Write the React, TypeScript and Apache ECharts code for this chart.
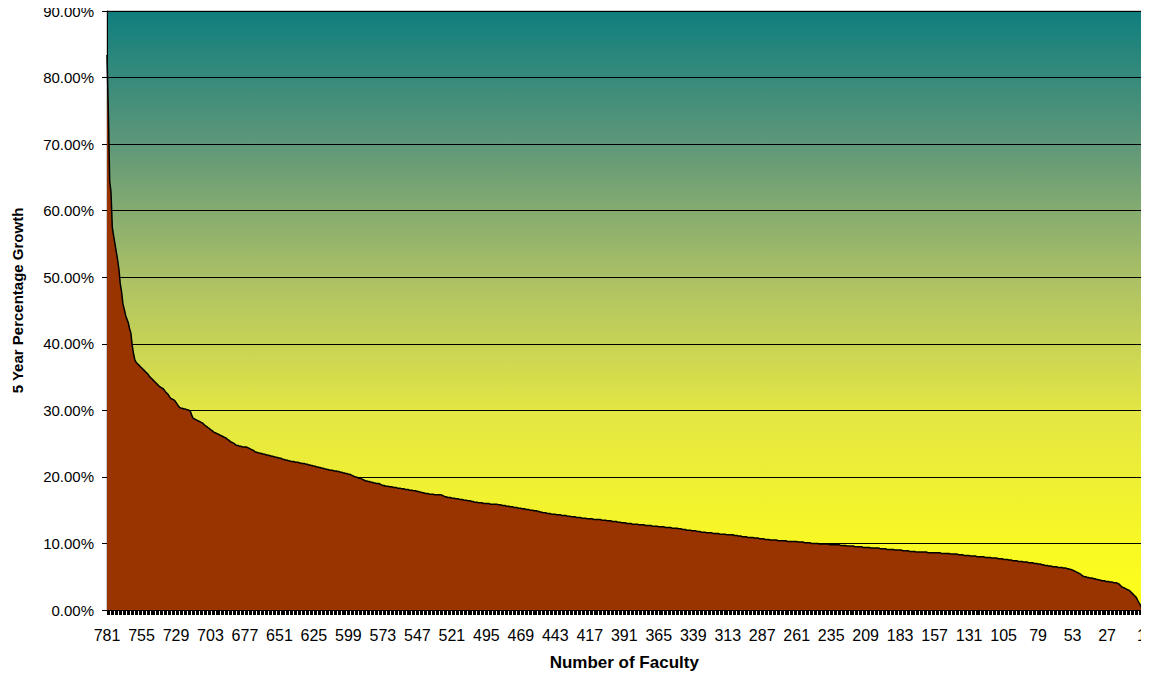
import React, { useEffect, useRef } from "react";
import * as echarts from "echarts";

// Number of faculty ranks: 781 (left) down to 1 (right)
const facultyCount = 781;
const categories: string[] = Array.from({ length: facultyCount }, (_, i) => String(facultyCount - i));

// 5-year percentage growth, in percent, in x-axis order (rank 781 ... rank 1)
const growthValues: number[] = [
  83.4, 75.0, 64.5, 62.8, 57.5, 56.2, 55.0, 53.8, 52.6, 51.2,
  49.0, 47.8, 46.0, 45.2, 44.3, 43.7, 43.2, 42.3, 41.6, 39.8,
  38.5, 37.6, 37.2, 37.0, 36.8, 36.6, 36.4, 36.2, 36.0, 35.8,
  35.6, 35.4, 35.1, 34.9, 34.7, 34.5, 34.3, 34.1, 33.9, 33.7,
  33.5, 33.4, 33.3, 33.1, 32.8, 32.6, 32.4, 32.1, 31.8, 31.7,
  31.6, 31.5, 31.2, 30.9, 30.6, 30.4, 30.3, 30.3, 30.2, 30.2,
  30.1, 30.1, 30.0, 29.8, 29.2, 28.8, 28.7, 28.6, 28.5, 28.4,
  28.3, 28.2, 28.1, 27.9, 27.7, 27.6, 27.4, 27.3, 27.1, 27.0,
  26.8, 26.7, 26.6, 26.5, 26.4, 26.3, 26.2, 26.1, 26.0, 25.9,
  25.8, 25.6, 25.5, 25.3, 25.2, 25.1, 25.0, 24.8, 24.7, 24.7,
  24.6, 24.6, 24.5, 24.5, 24.5, 24.5, 24.4, 24.3, 24.2, 24.1,
  24.0, 23.9, 23.7, 23.7, 23.6, 23.6, 23.5, 23.5, 23.4, 23.4,
  23.3, 23.3, 23.2, 23.2, 23.1, 23.1, 23.0, 23.0, 22.9, 22.9,
  22.8, 22.8, 22.7, 22.6, 22.6, 22.5, 22.5, 22.4, 22.4, 22.3,
  22.3, 22.3, 22.2, 22.2, 22.2, 22.1, 22.1, 22.0, 22.0, 22.0,
  21.9, 21.9, 21.8, 21.8, 21.7, 21.7, 21.6, 21.6, 21.5, 21.5,
  21.4, 21.4, 21.3, 21.3, 21.2, 21.2, 21.1, 21.1, 21.0, 21.0,
  21.0, 20.9, 20.9, 20.9, 20.8, 20.8, 20.7, 20.7, 20.6, 20.6,
  20.5, 20.5, 20.4, 20.4, 20.3, 20.2, 20.1, 20.0, 20.0, 19.9,
  19.8, 19.8, 19.7, 19.6, 19.5, 19.4, 19.4, 19.3, 19.3, 19.2,
  19.2, 19.1, 19.1, 19.0, 19.0, 19.0, 18.9, 18.8, 18.7, 18.7,
  18.6, 18.6, 18.6, 18.5, 18.5, 18.5, 18.4, 18.4, 18.4, 18.3,
  18.3, 18.3, 18.2, 18.2, 18.2, 18.1, 18.1, 18.1, 18.0, 18.0,
  18.0, 17.9, 17.9, 17.9, 17.8, 17.8, 17.7, 17.7, 17.6, 17.6,
  17.5, 17.5, 17.5, 17.4, 17.4, 17.4, 17.4, 17.3, 17.3, 17.3,
  17.3, 17.3, 17.3, 17.2, 17.1, 17.0, 17.0, 16.9, 16.9, 16.9,
  16.8, 16.8, 16.8, 16.7, 16.7, 16.7, 16.6, 16.6, 16.6, 16.5,
  16.5, 16.5, 16.4, 16.4, 16.4, 16.3, 16.3, 16.2, 16.2, 16.2,
  16.1, 16.1, 16.1, 16.1, 16.0, 16.0, 16.0, 16.0, 16.0, 15.9,
  15.9, 15.9, 15.9, 15.9, 15.9, 15.8, 15.8, 15.8, 15.7, 15.7,
  15.7, 15.6, 15.6, 15.6, 15.5, 15.5, 15.5, 15.4, 15.4, 15.4,
  15.3, 15.3, 15.3, 15.2, 15.2, 15.2, 15.1, 15.1, 15.1, 15.0,
  15.0, 15.0, 14.9, 14.9, 14.9, 14.8, 14.8, 14.7, 14.7, 14.6,
  14.6, 14.6, 14.5, 14.5, 14.5, 14.4, 14.4, 14.4, 14.4, 14.3,
  14.3, 14.3, 14.3, 14.2, 14.2, 14.2, 14.2, 14.1, 14.1, 14.1,
  14.0, 14.0, 14.0, 14.0, 13.9, 13.9, 13.9, 13.9, 13.8, 13.8,
  13.8, 13.8, 13.7, 13.7, 13.7, 13.7, 13.7, 13.6, 13.6, 13.6,
  13.6, 13.6, 13.6, 13.5, 13.5, 13.5, 13.5, 13.4, 13.4, 13.4,
  13.4, 13.3, 13.3, 13.3, 13.3, 13.2, 13.2, 13.2, 13.1, 13.1,
  13.1, 13.1, 13.0, 13.0, 13.0, 13.0, 12.9, 12.9, 12.9, 12.9,
  12.9, 12.8, 12.8, 12.8, 12.8, 12.8, 12.7, 12.7, 12.7, 12.7,
  12.7, 12.6, 12.6, 12.6, 12.6, 12.6, 12.5, 12.5, 12.5, 12.5,
  12.5, 12.4, 12.4, 12.4, 12.4, 12.4, 12.3, 12.3, 12.3, 12.3,
  12.3, 12.2, 12.2, 12.2, 12.1, 12.1, 12.1, 12.0, 12.0, 12.0,
  12.0, 11.9, 11.9, 11.9, 11.9, 11.8, 11.8, 11.8, 11.7, 11.7,
  11.7, 11.7, 11.6, 11.6, 11.6, 11.6, 11.6, 11.5, 11.5, 11.5,
  11.5, 11.5, 11.4, 11.4, 11.4, 11.4, 11.4, 11.3, 11.3, 11.3,
  11.3, 11.3, 11.3, 11.2, 11.2, 11.2, 11.1, 11.1, 11.1, 11.0,
  11.0, 11.0, 11.0, 10.9, 10.9, 10.9, 10.9, 10.9, 10.8, 10.8,
  10.8, 10.8, 10.7, 10.7, 10.7, 10.7, 10.6, 10.6, 10.6, 10.6,
  10.5, 10.5, 10.5, 10.5, 10.5, 10.5, 10.4, 10.4, 10.4, 10.4,
  10.4, 10.4, 10.4, 10.3, 10.3, 10.3, 10.3, 10.3, 10.3, 10.3,
  10.3, 10.2, 10.2, 10.2, 10.2, 10.2, 10.1, 10.1, 10.1, 10.1,
  10.1, 10.0, 10.0, 10.0, 10.0, 10.0, 10.0, 9.9, 9.9, 9.9,
  9.9, 9.9, 9.9, 9.9, 9.9, 9.8, 9.8, 9.8, 9.8, 9.8,
  9.8, 9.8, 9.8, 9.7, 9.7, 9.7, 9.7, 9.7, 9.6, 9.6,
  9.6, 9.6, 9.6, 9.6, 9.5, 9.5, 9.5, 9.5, 9.5, 9.5,
  9.4, 9.4, 9.4, 9.4, 9.4, 9.4, 9.3, 9.3, 9.3, 9.3,
  9.3, 9.3, 9.3, 9.2, 9.2, 9.2, 9.2, 9.2, 9.1, 9.1,
  9.1, 9.1, 9.1, 9.1, 9.0, 9.0, 9.0, 9.0, 9.0, 9.0,
  8.9, 8.9, 8.9, 8.9, 8.9, 8.8, 8.8, 8.8, 8.8, 8.8,
  8.7, 8.7, 8.7, 8.7, 8.7, 8.7, 8.7, 8.7, 8.7, 8.6,
  8.6, 8.6, 8.6, 8.6, 8.6, 8.6, 8.6, 8.6, 8.6, 8.5,
  8.5, 8.5, 8.5, 8.5, 8.5, 8.5, 8.4, 8.4, 8.4, 8.4,
  8.4, 8.4, 8.3, 8.3, 8.3, 8.3, 8.2, 8.2, 8.2, 8.2,
  8.2, 8.1, 8.1, 8.1, 8.1, 8.1, 8.0, 8.0, 8.0, 8.0,
  8.0, 8.0, 7.9, 7.9, 7.9, 7.9, 7.9, 7.8, 7.8, 7.8,
  7.8, 7.8, 7.7, 7.7, 7.7, 7.7, 7.6, 7.6, 7.6, 7.6,
  7.5, 7.5, 7.5, 7.4, 7.4, 7.4, 7.4, 7.3, 7.3, 7.3,
  7.3, 7.2, 7.2, 7.2, 7.2, 7.1, 7.1, 7.1, 7.1, 7.0,
  7.0, 7.0, 6.9, 6.9, 6.9, 6.8, 6.8, 6.7, 6.7, 6.7,
  6.6, 6.6, 6.6, 6.5, 6.5, 6.5, 6.5, 6.4, 6.4, 6.4,
  6.4, 6.3, 6.3, 6.3, 6.2, 6.2, 6.1, 6.1, 6.0, 5.9,
  5.8, 5.7, 5.6, 5.5, 5.4, 5.2, 5.1, 5.0, 5.0, 4.9,
  4.9, 4.8, 4.8, 4.8, 4.7, 4.7, 4.6, 4.6, 4.5, 4.5,
  4.4, 4.4, 4.4, 4.3, 4.3, 4.3, 4.2, 4.2, 4.2, 4.1,
  4.1, 4.1, 4.0, 3.9, 3.7, 3.5, 3.4, 3.3, 3.2, 3.1,
  3.0, 2.9, 2.7, 2.5, 2.3, 2.1, 1.9, 1.5, 1.1, 0.8,
  0.3,
];

const yMin = 0;
const yMax = 90;
const yStep = 10;

const FONT = "Liberation Sans";

export default function App() {
  const ref = useRef<HTMLDivElement>(null);

  useEffect(() => {
    if (!ref.current) return;
    const chart = echarts.init(ref.current, undefined, { renderer: "svg" });
    chart.setOption({
      animation: false,
      backgroundColor: "#ffffff",
      grid: {
        left: 107,
        right: 7,
        top: 11,
        bottom: 71,
        show: true,
        borderColor: "#9a9a9a",
        borderWidth: 1,
        backgroundColor: new echarts.graphic.LinearGradient(0, 0, 0, 1, [
          { offset: 0, color: "#0f7e7e" },
          { offset: 0.222, color: "#5e9779" },
          { offset: 0.444, color: "#abc066" },
          { offset: 0.667, color: "#e3e644" },
          { offset: 0.889, color: "#f8f825" },
          { offset: 1, color: "#ffff18" },
        ]),
      },
      xAxis: {
        type: "category",
        data: categories,
        boundaryGap: false,
        name: "Number of Faculty",
        nameLocation: "middle",
        nameGap: 44,
        nameTextStyle: { fontFamily: FONT, fontSize: 17, fontWeight: "bold", color: "#000" },
        axisLine: { show: true, lineStyle: { color: "#000", width: 1 } },
        axisTick: { show: true, interval: 0, length: 5, lineStyle: { color: "#000", width: 1 } },
        axisLabel: {
          interval: 25,
          margin: 17,
          fontFamily: FONT,
          fontSize: 16,
          color: "#000",
        },
        splitLine: { show: false },
      },
      yAxis: {
        type: "value",
        min: yMin,
        max: yMax,
        interval: yStep,
        name: "5 Year Percentage Growth",
        nameLocation: "middle",
        nameGap: 82,
        nameRotate: 90,
        nameTextStyle: {
          fontFamily: FONT,
          fontSize: 15,
          fontWeight: "bold",
          color: "#000",
          padding: [0, 0, 0, 20],
        },
        axisLine: { show: true, lineStyle: { color: "#000", width: 1 } },
        axisTick: { show: true, length: 5, lineStyle: { color: "#000" } },
        axisLabel: {
          margin: 13,
          fontFamily: FONT,
          fontSize: 15,
          color: "#000",
          formatter: (v: number) => `${v.toFixed(2)}%`,
        },
        splitLine: { show: true, lineStyle: { color: "#000", width: 1 } },
      },
      series: [
        {
          type: "line",
          data: growthValues,
          showSymbol: false,
          symbol: "none",
          lineStyle: { color: "#000", width: 1.5 },
          areaStyle: { color: "#993300", opacity: 1 },
          z: 3,
        },
      ],
    });
    return () => chart.dispose();
  }, []);

  return <div ref={ref} style={{ width: 1149, height: 681, margin: -8 }} />;
}
